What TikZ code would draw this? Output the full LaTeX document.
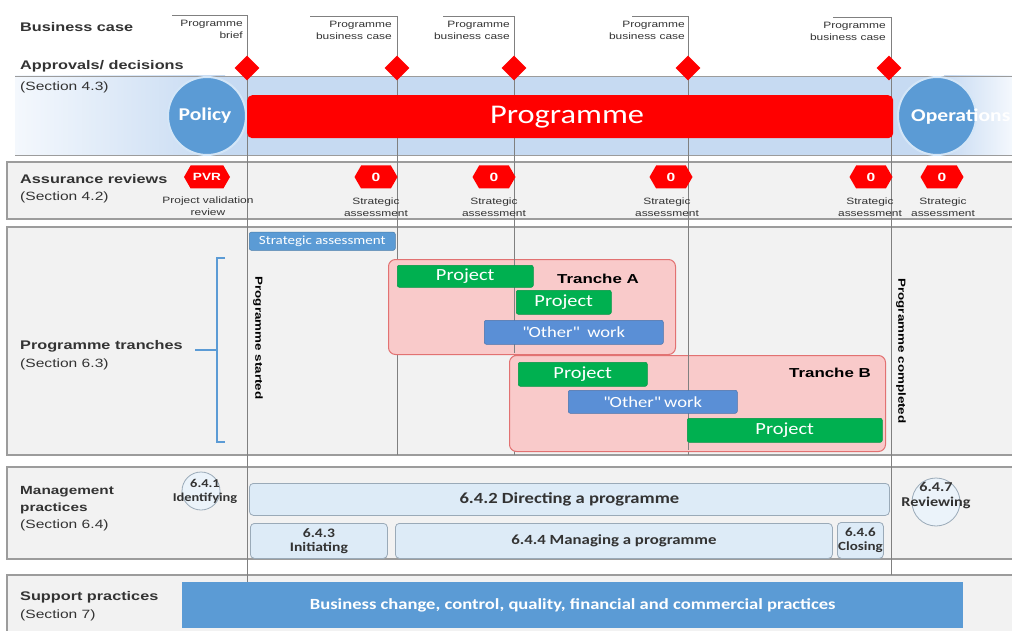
\documentclass[tikz,border=0pt]{standalone}
\usepackage{fontspec}
\setmainfont[FakeStretch=1.3]{Liberation Sans}
\newfontfamily\calfont[FakeStretch=1.2]{Carlito}
\usetikzlibrary{shapes.geometric,shapes.symbols}

\definecolor{band}{HTML}{C6DAF2}
\definecolor{bandlight}{HTML}{F4F8FD}
\definecolor{rowfill}{HTML}{F2F2F2}
\definecolor{rowline}{HTML}{9C9C9C}
\definecolor{mile}{HTML}{808080}
\definecolor{progred}{HTML}{FF0000}
\definecolor{circblue}{HTML}{5B9BD5}
\definecolor{ringblue}{HTML}{D4E6F7}
\definecolor{projgreen}{HTML}{00B050}
\definecolor{otherblue}{HTML}{5A8FD6}
\definecolor{tranfill}{HTML}{F9CACA}
\definecolor{tranline}{HTML}{E27272}
\definecolor{mfill}{HTML}{DDEBF7}
\definecolor{mline}{HTML}{9AAAB8}
\definecolor{darktext}{HTML}{333333}

\begin{document}
\begin{tikzpicture}[x=1pt,y=-1pt,
  head/.style={anchor=west,inner sep=0pt,text=darktext,font=\bfseries\fontsize{12.5}{15}\selectfont},
  sect/.style={anchor=west,inner sep=0pt,text=darktext,font=\fontsize{12}{14}\selectfont},
  note/.style={inner sep=0pt,text=darktext,align=center,font=\fontsize{9.2}{12.5}\selectfont},
  toplabel/.style={anchor=north east,inner sep=0pt,text=darktext,align=right,font=\fontsize{9.2}{12}\selectfont},
  row/.style={draw=rowline,fill=rowfill,line width=1.2pt},
  mileline/.style={draw=mile,line width=0.6pt},
  dia/.style={diamond,fill=progred,inner sep=0pt,minimum width=25pt,minimum height=25pt},
  hexb/.style={signal,signal to=east and west,signal pointer angle=120,fill=progred,text=white,
    inner sep=0pt,minimum width=43pt,minimum height=23pt,font=\bfseries\fontsize{12}{13}\selectfont},
  bigcirc/.style={circle,fill=circblue,draw=ringblue,line width=2pt,minimum size=78pt,inner sep=0pt},
  bar/.style={rectangle,rounded corners=2pt,inner sep=0pt,anchor=north west,text=white},
  proj/.style={bar,fill=projgreen,draw=projgreen!85!black,line width=0.5pt,font=\calfont\fontsize{17}{18}\selectfont},
  other/.style={bar,fill=otherblue,draw=otherblue!80!black,line width=0.5pt,font=\calfont\fontsize{15.5}{17}\selectfont},
  tranche/.style={rectangle,rounded corners=7pt,fill=tranfill,draw=tranline,line width=1pt,anchor=north west,inner sep=0pt},
  tlabel/.style={inner sep=0pt,text=black,font=\bfseries\fontsize{13}{15}\selectfont},
  mbox/.style={rectangle,rounded corners=4pt,fill=mfill,draw=mline,line width=0.8pt,anchor=north west,inner sep=0pt,
    align=center,text=darktext,font=\calfont\bfseries\fontsize{13}{14}\selectfont},
  mcirc/.style={circle,fill=mfill!60!white,draw=mline,line width=0.8pt,inner sep=0pt},
  mtext/.style={inner sep=0pt,align=center,text=darktext,font=\calfont\bfseries\fontsize{12}{14}\selectfont},
  vtext/.style={rotate=-90,inner sep=0pt,text=black,font=\bfseries\fontsize{10.3}{12}\selectfont}
]
\clip (0,0) rectangle (1012,631);
\fill[white] (0,0) rectangle (1012,631);

% ---------- approvals band ----------
\shade[left color=bandlight,right color=band] (15,76) rectangle (225,155);
\fill[band] (224,76) rectangle (945,155);
\shade[left color=band,right color=bandlight] (944,76) rectangle (1012,155);
\draw[rowline,line width=0.8pt] (15,76) -- (1012,76);
\draw[rowline,line width=0.8pt] (15,155) -- (1012,155);

% ---------- row frames ----------
\draw[row] (7,162) rectangle (1030,219);
\draw[row] (7,227) rectangle (1030,455);
\draw[row] (7,467) rectangle (1030,559);
\draw[row] (7,575) rectangle (1030,650);

% ---------- milestone lines ----------
\coordinate (s1) at (172,15);  \coordinate (t1) at (247,15);  \coordinate (e1) at (247,582);
\coordinate (s2) at (310,16);  \coordinate (t2) at (397,16);  \coordinate (e2) at (397,455);
\coordinate (s3) at (443,16);  \coordinate (t3) at (514,16);  \coordinate (e3) at (514,455);
\coordinate (s4) at (632,16);  \coordinate (t4) at (688,16);  \coordinate (e4) at (688,455);
\coordinate (s5) at (833,17);  \coordinate (t5) at (891,17);  \coordinate (e5) at (891,575);
\foreach \i in {1,...,5} \draw[mileline] (s\i) -- (t\i) -- (e\i);

% ---------- left headings ----------
\node[head] (hbc) at (20,27) {Business case};
\node[head] (hap) at (20,66) {Approvals/ decisions};
\node[sect] (sap) at (20,87) {(Section 4.3)};
\node[head] (has) at (20,179) {Assurance reviews};
\node[sect] (sas) at (20,197) {(Section 4.2)};
\node[head] (htr) at (20,346) {Programme tranches};
\node[sect] (str) at (20,364) {(Section 6.3)};
\node[head,font=\bfseries\fontsize{11.8}{14}\selectfont] (hm1) at (20,492) {Management};
\node[head,font=\bfseries\fontsize{11.8}{14}\selectfont] (hm2) at (20,508) {practices};
\node[sect] (smp) at (20,525) {(Section 6.4)};
\node[head] (hsp) at (20,597) {Support practices};
\node[sect] (ssp) at (20,615) {(Section 7)};

% ---------- business case labels ----------
\node[toplabel] (b1) at (243,20) {Programme\\brief};
\node[toplabel] (b2) at (392,21) {Programme\\business case};
\node[toplabel] (b3) at (510,21) {Programme\\business case};
\node[toplabel] (b4) at (685,21) {Programme\\business case};
\node[toplabel] (b5) at (886,22) {Programme\\business case};

% ---------- approval diamonds ----------
\node[dia] (d1) at (247,68) {};
\node[dia] (d2) at (397,68) {};
\node[dia] (d3) at (514,68) {};
\node[dia] (d4) at (688,68) {};
\node[dia] (d5) at (889,68) {};

% ---------- policy / programme / operations ----------
\node[bigcirc] (pol) at (207,116) {};
\node[text=white,inner sep=0pt,font=\calfont\bfseries\fontsize{18}{20}\selectfont] (polt) at (205,116) {Policy};
\node[rectangle,rounded corners=5pt,fill=progred,inner sep=0pt,anchor=north west,
      minimum width=646pt,minimum height=43pt] (prog) at (247,95) {};
\node[text=white,inner sep=0pt,font=\calfont\fontsize{27}{30}\selectfont] (progt) at (567,117) {Programme};
\node[bigcirc] (ops) at (937,116) {};
\node[anchor=west,text=white,inner sep=0pt,font=\calfont\bfseries\fontsize{18}{20}\selectfont] (opst) at (911,117) {Operations};

% ---------- assurance reviews ----------
\node[hexb,minimum width=46pt,font=\bfseries\fontsize{10.5}{12}\selectfont] (pvr) at (207,177) {PVR};
\node[hexb] (a1) at (376,177) {0};
\node[hexb] (a2) at (494,177) {0};
\node[hexb] (a3) at (671,177) {0};
\node[hexb] (a4) at (871,177) {0};
\node[hexb] (a5) at (942,177) {0};
\node[note] (pvrn) at (208,206) {Project validation\\review};
\node[note] (a1n) at (376,207) {Strategic\\assessment};
\node[note] (a2n) at (494,207) {Strategic\\assessment};
\node[note] (a3n) at (667,207) {Strategic\\assessment};
\node[note] (a4n) at (870,207) {Strategic\\assessment};
\node[note] (a5n) at (943,207) {Strategic\\assessment};

% ---------- programme tranches ----------
\draw[circblue,line width=1.3pt] (225,258) -- (217,258) -- (217,442) -- (225,442);
\draw[circblue,line width=1.3pt] (195,350) -- (217,350);
\node[bar,fill=circblue,draw=circblue!80!black,line width=0.5pt,minimum width=146pt,minimum height=18pt,
      font=\calfont\fontsize{12.5}{14}\selectfont] (sa) at (249,232) {Strategic assessment};
\node[vtext] (pstart) at (258,338) {Programme started};
\node[vtext] (pend) at (901,351) {Programme completed};

\node[tranche,minimum width=287pt,minimum height=95pt] (tA) at (388,259) {};
\node[tranche,minimum width=376pt,minimum height=96pt] (tB) at (509,355) {};
\draw[mileline] (514,259) -- (514,353);
\draw[mileline] (688,355) -- (688,450);
\node[tlabel] (tAl) at (598,279) {Tranche A};
\node[tlabel] (tBl) at (830,373) {Tranche B};

\node[proj,minimum width=136pt,minimum height=22pt] (pa1) at (397,265) {Project};
\node[proj,minimum width=95pt,minimum height=24pt] (pa2) at (516,290) {Project};
\node[other,minimum width=179pt,minimum height=24pt] (oa) at (484,320) {\textquotedbl Other\textquotedbl\ \ work};
\node[proj,minimum width=129pt,minimum height=24pt] (pb1) at (518,362) {Project};
\node[other,minimum width=169pt,minimum height=23pt] (ob) at (568,390) {\textquotedbl Other\textquotedbl\ work};
\node[proj,minimum width=195pt,minimum height=24pt] (pb2) at (687,418) {Project};

% ---------- management practices ----------
\node[mcirc,minimum size=38pt] (m1c) at (201,491) {};
\node[mtext] (m1t) at (205,491) {6.4.1\\Identifying};
\node[mbox,minimum width=640pt,minimum height=32pt,font=\calfont\bfseries\fontsize{15.5}{17}\selectfont] (m2) at (249,483) {6.4.2 Directing a programme};
\node[mbox,minimum width=137pt,minimum height=35pt] (m3) at (250,523) {6.4.3\\Initiating};
\node[mbox,minimum width=437pt,minimum height=35pt,font=\calfont\bfseries\fontsize{14}{16}\selectfont] (m4) at (395,523) {6.4.4 Managing a programme};
\node[mbox,minimum width=46pt,minimum height=36pt,font=\calfont\bfseries\fontsize{12.5}{14}\selectfont] (m6) at (837,522) {6.4.6\\Closing};
\node[mcirc,minimum size=48pt] (m7c) at (936,502) {};
\node[mtext,font=\calfont\bfseries\fontsize{13.5}{15}\selectfont] (m7t) at (936,496) {6.4.7\\Reviewing};

% ---------- support practices ----------
\node[bar,rounded corners=0pt,fill=circblue,minimum width=781pt,minimum height=46pt,
      font=\calfont\bfseries\fontsize{15.5}{17}\selectfont] (sup) at (182,582)
      {Business change, control, quality, financial and commercial practices};
\end{tikzpicture}
\end{document}
